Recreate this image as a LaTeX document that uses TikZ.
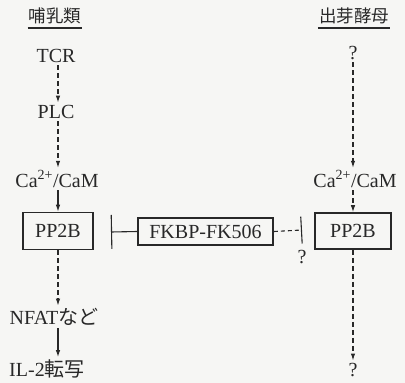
\documentclass[tikz,border=0pt]{standalone}
\usepackage{fontspec}
\setmainfont{Liberation Serif}
\newfontfamily\jp{Noto Sans CJK JP}
\usetikzlibrary{arrows.meta}
\definecolor{ink}{RGB}{40,40,40}
\definecolor{paper}{RGB}{246,246,244}
\begin{document}
\begin{tikzpicture}[x=1pt,y=-1pt,
  lbl/.style={inner sep=2.5pt, font=\fontsize{20}{22}\selectfont, text=ink},
  head/.style={inner sep=1pt, font=\jp\fontsize{17.5}{20}\selectfont, text=ink},
  boxnode/.style={lbl, draw=ink, line width=1.6pt, inner sep=0pt},
  conn/.style={draw=ink, line width=1.1pt},
  dasharrow/.style={conn, dash pattern=on 5pt off 3pt, -{Latex[length=7pt,width=4.5pt]}},
  solidarrow/.style={conn, -{Latex[length=7pt,width=4.5pt]}},
  uline/.style={draw=ink, line width=1.8pt}]
\fill[paper] (0,0) rectangle (405,383);
\useasboundingbox (0,0) rectangle (405,383);

% headings
\node[head] (hL) at (55,16) {哺乳類};
\node[head] (hR) at (354,16) {出芽酵母};
\draw[uline] ([yshift=-3pt]hL.south west) -- ([yshift=-3pt]hL.south east);
\draw[uline] ([yshift=-3pt]hR.south west) -- ([yshift=-3pt]hR.south east);

% left column
\node[lbl] (tcr) at (56,56) {TCR};
\node[lbl] (plc) at (56,112) {PLC};
\node[lbl] (caL) at (57,179) {Ca\textsuperscript{2+}/CaM};
\node[boxnode, minimum width=70pt, minimum height=37pt] (ppL) at (58,231) {PP2B};
\node[lbl] (nfat) at (54,317) {NFAT{\jp など}};
\node[lbl] (il2) at (47,369) {IL-2{\jp 転写}};

% right column
\node[lbl] (qT) at (353,53) {?};
\node[lbl] (caR) at (355,179) {Ca\textsuperscript{2+}/CaM};
\node[boxnode, minimum width=76pt, minimum height=36pt] (ppR) at (353,231) {PP2B};
\node[lbl] (qB) at (353,370) {?};

% middle
\node[boxnode, minimum width=135pt, minimum height=27pt] (fk) at (205.5,231.5) {FKBP-FK506};
\coordinate (barL) at (111,232);
\coordinate (barR) at (302,230);
\node[lbl] (qM) at (302,257) {?};

% connectors left
\draw[dasharrow] (tcr.south -| ppL) -- (plc.north -| ppL);
\draw[dasharrow] (plc.south -| ppL) -- (caL.north -| ppL);
\draw[solidarrow] (caL.south -| ppL) -- (ppL.north);
\draw[dasharrow] (ppL.south) -- (nfat.north -| ppL);
\draw[solidarrow] (nfat.south -| ppL) -- (il2.north -| ppL);

% connectors right
\draw[dasharrow] (qT.south -| ppR) -- (caR.north -| ppR);
\draw[dasharrow] (caR.south -| ppR) -- (ppR.north);
\draw[dasharrow] (ppR.south) -- (qB.north -| ppR);

% inhibitions
\draw[conn, -{Bar[width=34pt]}] (fk.west) -- (barL);
\draw[conn, dash pattern=on 4pt off 3pt, -{Bar[width=27pt]}] (fk.east) -- (barR);
\end{tikzpicture}
\end{document}
